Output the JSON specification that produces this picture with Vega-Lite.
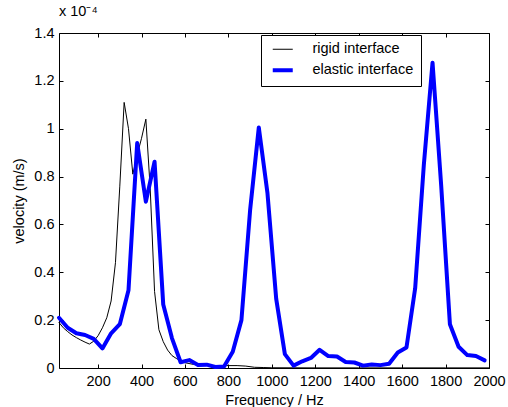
{
  "$schema": "https://vega.github.io/schema/vega-lite/v6.json",
  "width": 430,
  "height": 335,
  "autosize": "none",
  "padding": {"left": 59, "top": 33, "right": 19, "bottom": 39},
  "title": {"text": "x 10⁻⁴", "anchor": "start", "frame": "group", "offset": 6, "fontSize": 14.5, "fontWeight": "normal", "font": "Liberation Sans", "color": "black"},
  "datasets": {
    "curves": [
      {"f": 20, "v": 0.19, "s": "rigid interface"},
      {"f": 40, "v": 0.168, "s": "rigid interface"},
      {"f": 60, "v": 0.152, "s": "rigid interface"},
      {"f": 80, "v": 0.138, "s": "rigid interface"},
      {"f": 100, "v": 0.127, "s": "rigid interface"},
      {"f": 120, "v": 0.117, "s": "rigid interface"},
      {"f": 140, "v": 0.108, "s": "rigid interface"},
      {"f": 160, "v": 0.1, "s": "rigid interface"},
      {"f": 180, "v": 0.112, "s": "rigid interface"},
      {"f": 200, "v": 0.135, "s": "rigid interface"},
      {"f": 220, "v": 0.168, "s": "rigid interface"},
      {"f": 240, "v": 0.21, "s": "rigid interface"},
      {"f": 260, "v": 0.28, "s": "rigid interface"},
      {"f": 280, "v": 0.44, "s": "rigid interface"},
      {"f": 300, "v": 0.76, "s": "rigid interface"},
      {"f": 320, "v": 1.11, "s": "rigid interface"},
      {"f": 340, "v": 1.0, "s": "rigid interface"},
      {"f": 360, "v": 0.81, "s": "rigid interface"},
      {"f": 380, "v": 0.89, "s": "rigid interface"},
      {"f": 400, "v": 0.96, "s": "rigid interface"},
      {"f": 420, "v": 1.04, "s": "rigid interface"},
      {"f": 440, "v": 0.75, "s": "rigid interface"},
      {"f": 460, "v": 0.32, "s": "rigid interface"},
      {"f": 480, "v": 0.16, "s": "rigid interface"},
      {"f": 500, "v": 0.11, "s": "rigid interface"},
      {"f": 520, "v": 0.075, "s": "rigid interface"},
      {"f": 540, "v": 0.052, "s": "rigid interface"},
      {"f": 560, "v": 0.04, "s": "rigid interface"},
      {"f": 580, "v": 0.03, "s": "rigid interface"},
      {"f": 600, "v": 0.022, "s": "rigid interface"},
      {"f": 640, "v": 0.015, "s": "rigid interface"},
      {"f": 680, "v": 0.012, "s": "rigid interface"},
      {"f": 720, "v": 0.01, "s": "rigid interface"},
      {"f": 760, "v": 0.01, "s": "rigid interface"},
      {"f": 800, "v": 0.01, "s": "rigid interface"},
      {"f": 840, "v": 0.01, "s": "rigid interface"},
      {"f": 880, "v": 0.008, "s": "rigid interface"},
      {"f": 920, "v": 0.003, "s": "rigid interface"},
      {"f": 960, "v": 0.002, "s": "rigid interface"},
      {"f": 1000, "v": 0.001, "s": "rigid interface"},
      {"f": 1200, "v": 0.0005, "s": "rigid interface"},
      {"f": 1400, "v": 0.0005, "s": "rigid interface"},
      {"f": 1600, "v": 0.0005, "s": "rigid interface"},
      {"f": 1800, "v": 0.0005, "s": "rigid interface"},
      {"f": 2000, "v": 0.0005, "s": "rigid interface"},
      {"f": 20, "v": 0.21, "s": "elastic interface"},
      {"f": 60, "v": 0.168, "s": "elastic interface"},
      {"f": 100, "v": 0.145, "s": "elastic interface"},
      {"f": 140, "v": 0.138, "s": "elastic interface"},
      {"f": 180, "v": 0.122, "s": "elastic interface"},
      {"f": 220, "v": 0.082, "s": "elastic interface"},
      {"f": 260, "v": 0.145, "s": "elastic interface"},
      {"f": 300, "v": 0.183, "s": "elastic interface"},
      {"f": 340, "v": 0.325, "s": "elastic interface"},
      {"f": 380, "v": 0.94, "s": "elastic interface"},
      {"f": 420, "v": 0.695, "s": "elastic interface"},
      {"f": 460, "v": 0.862, "s": "elastic interface"},
      {"f": 500, "v": 0.265, "s": "elastic interface"},
      {"f": 540, "v": 0.125, "s": "elastic interface"},
      {"f": 580, "v": 0.024, "s": "elastic interface"},
      {"f": 620, "v": 0.033, "s": "elastic interface"},
      {"f": 660, "v": 0.013, "s": "elastic interface"},
      {"f": 700, "v": 0.014, "s": "elastic interface"},
      {"f": 740, "v": 0.004, "s": "elastic interface"},
      {"f": 780, "v": 0.006, "s": "elastic interface"},
      {"f": 820, "v": 0.068, "s": "elastic interface"},
      {"f": 860, "v": 0.2, "s": "elastic interface"},
      {"f": 900, "v": 0.66, "s": "elastic interface"},
      {"f": 940, "v": 1.005, "s": "elastic interface"},
      {"f": 980, "v": 0.73, "s": "elastic interface"},
      {"f": 1020, "v": 0.29, "s": "elastic interface"},
      {"f": 1060, "v": 0.058, "s": "elastic interface"},
      {"f": 1100, "v": 0.01, "s": "elastic interface"},
      {"f": 1140, "v": 0.028, "s": "elastic interface"},
      {"f": 1180, "v": 0.042, "s": "elastic interface"},
      {"f": 1220, "v": 0.076, "s": "elastic interface"},
      {"f": 1260, "v": 0.05, "s": "elastic interface"},
      {"f": 1300, "v": 0.048, "s": "elastic interface"},
      {"f": 1340, "v": 0.025, "s": "elastic interface"},
      {"f": 1380, "v": 0.023, "s": "elastic interface"},
      {"f": 1420, "v": 0.01, "s": "elastic interface"},
      {"f": 1460, "v": 0.015, "s": "elastic interface"},
      {"f": 1500, "v": 0.012, "s": "elastic interface"},
      {"f": 1540, "v": 0.018, "s": "elastic interface"},
      {"f": 1580, "v": 0.065, "s": "elastic interface"},
      {"f": 1620, "v": 0.086, "s": "elastic interface"},
      {"f": 1660, "v": 0.333, "s": "elastic interface"},
      {"f": 1700, "v": 0.85, "s": "elastic interface"},
      {"f": 1740, "v": 1.276, "s": "elastic interface"},
      {"f": 1780, "v": 0.76, "s": "elastic interface"},
      {"f": 1820, "v": 0.183, "s": "elastic interface"},
      {"f": 1860, "v": 0.089, "s": "elastic interface"},
      {"f": 1900, "v": 0.054, "s": "elastic interface"},
      {"f": 1940, "v": 0.05, "s": "elastic interface"},
      {"f": 1980, "v": 0.032, "s": "elastic interface"}
    ]
  },
  "data": {"name": "curves"},
  "layer": [
    {
      "mark": {"type": "line", "opacity": 0},
      "encoding": {
        "x": {"field": "f", "type": "quantitative", "scale": {"domain": [20, 2000], "nice": false, "zero": false},
              "axis": {"orient": "top", "labels": false, "title": null, "values": [200, 400, 600, 800, 1000, 1200, 1400, 1600, 1800, 2000], "tickSize": -4, "domain": false, "grid": false}},
        "y": {"field": "v", "type": "quantitative", "scale": {"domain": [0, 1.4], "nice": false},
              "axis": {"orient": "right", "labels": false, "title": null, "values": [0, 0.2, 0.4, 0.6, 0.8, 1, 1.2, 1.4], "tickSize": -4, "domain": false, "grid": false}}
      }
    },
    {
      "mark": {"type": "line", "strokeJoin": "round", "strokeCap": "round"},
      "encoding": {
        "x": {"field": "f", "type": "quantitative", "scale": {"domain": [20, 2000], "nice": false, "zero": false},
              "axis": {"orient": "bottom", "title": "Frequency / Hz", "values": [200, 400, 600, 800, 1000, 1200, 1400, 1600, 1800, 2000], "format": "d", "labelOverlap": false, "labelFlush": false, "labelFontSize": 14.5, "titleFontSize": 14.5, "tickSize": -4, "labelPadding": 10, "titlePadding": 6, "domain": false, "grid": false}},
        "y": {"field": "v", "type": "quantitative", "scale": {"domain": [0, 1.4], "nice": false},
              "axis": {"orient": "left", "title": "velocity (m/s)", "values": [0, 0.2, 0.4, 0.6, 0.8, 1, 1.2, 1.4], "format": ".1~f", "labelOverlap": false, "labelFlush": false, "labelFontSize": 14.5, "titleFontSize": 14.5, "tickSize": -4, "labelPadding": 9, "titlePadding": 7, "domain": false, "grid": false}},
        "color": {"field": "s", "type": "nominal", "scale": {"domain": ["rigid interface", "elastic interface"], "range": ["#000000", "#0000ff"]},
                  "legend": {"title": null, "orient": "none", "legendX": 202, "legendY": 2, "symbolType": "M-0.5,0H3.5", "symbolSize": 100, "rowPadding": 6, "labelOffset": 30, "padding": 7, "strokeColor": "black", "fillColor": "white", "labelFontSize": 14.5, "labelFont": "Liberation Sans", "labelColor": "black"}},
        "strokeWidth": {"field": "s", "type": "nominal", "scale": {"domain": ["rigid interface", "elastic interface"], "range": [1, 4]}, "legend": null}
      }
    }
  ],
  "resolve": {"axis": {"x": "independent", "y": "independent"}},
  "config": {
    "view": {"stroke": "black", "strokeWidth": 1},
    "font": "Liberation Sans",
    "axis": {"labelFontSize": 14.5, "titleFontSize": 14.5, "titleFontWeight": "normal", "labelColor": "black", "titleColor": "black", "tickColor": "black", "labelFont": "Liberation Sans", "titleFont": "Liberation Sans"}
  }
}
